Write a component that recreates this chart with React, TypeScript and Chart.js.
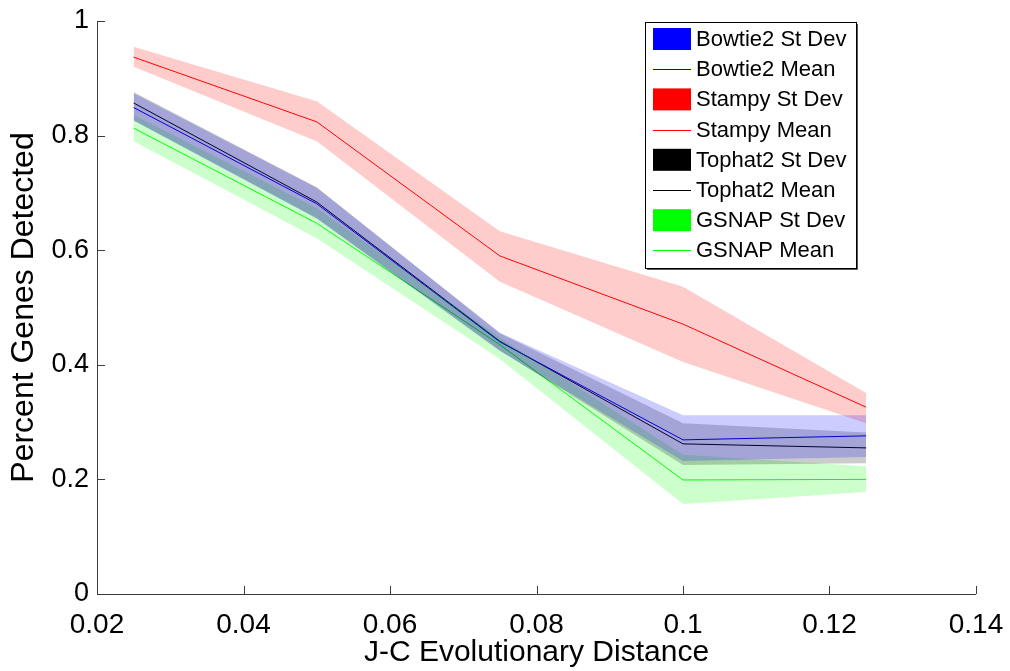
import React, { useEffect, useRef } from "react";
import { Chart, registerables } from "chart.js";

Chart.register(...registerables);

const xValues = [0.025, 0.05, 0.075, 0.1, 0.125];

const bowtieMean = [0.849, 0.681, 0.44, 0.269, 0.276];
const bowtieUpper = [0.874, 0.709, 0.456, 0.312, 0.312];
const bowtieLower = [0.826, 0.655, 0.424, 0.232, 0.239];

const stampyMean = [0.937, 0.824, 0.59, 0.471, 0.326];
const stampyUpper = [0.955, 0.86, 0.633, 0.536, 0.351];
const stampyLower = [0.92, 0.79, 0.545, 0.405, 0.298];

const tophatMean = [0.857, 0.684, 0.441, 0.262, 0.255];
const tophatUpper = [0.876, 0.71, 0.455, 0.298, 0.282];
const tophatLower = [0.827, 0.656, 0.425, 0.225, 0.228];

const gsnapMean = [0.813, 0.647, 0.435, 0.199, 0.2];
const gsnapUpper = [0.836, 0.673, 0.447, 0.243, 0.223];
const gsnapLower = [0.79, 0.621, 0.41, 0.157, 0.178];

const xTicks = [0.02, 0.04, 0.06, 0.08, 0.1, 0.12, 0.14];
const yTicks = [0, 0.2, 0.4, 0.6, 0.8, 1];

const legendLabels = [
  "Bowtie2 St Dev",
  "Bowtie2 Mean",
  "Stampy St Dev",
  "Stampy Mean",
  "Tophat2 St Dev",
  "Tophat2 Mean",
  "GSNAP St Dev",
  "GSNAP Mean",
];

const FONT = "'Liberation Sans', Arial, Helvetica, sans-serif";

const pts = (ys: number[]) => xValues.map((x, i) => ({ x, y: ys[i] }));

function bandSets(upper: number[], lower: number[], rgb: string) {
  return [
    {
      label: "upper",
      data: pts(upper),
      borderWidth: 0,
      pointRadius: 0,
      fill: "+1",
      backgroundColor: `rgba(${rgb},0.2)`,
      borderColor: "transparent",
      tension: 0,
    },
    {
      label: "lower",
      data: pts(lower),
      borderWidth: 0,
      pointRadius: 0,
      fill: false,
      borderColor: "transparent",
      tension: 0,
    },
  ];
}

function meanSet(ys: number[], color: string) {
  return {
    label: "mean",
    data: pts(ys),
    borderWidth: 1,
    pointRadius: 0,
    fill: false,
    borderColor: color,
    tension: 0,
  };
}

const axesPlugin = {
  id: "matlabAxes",
  afterDraw(chart: any) {
    const ctx = chart.ctx;
    const { left, right, top, bottom } = chart.chartArea;
    const xs = chart.scales.x;
    const ys = chart.scales.y;
    ctx.save();
    ctx.strokeStyle = "#3c3c3c";
    ctx.lineWidth = 1;
    ctx.beginPath();
    ctx.moveTo(left + 0.5, top);
    ctx.lineTo(left + 0.5, bottom + 0.5);
    ctx.lineTo(right, bottom + 0.5);
    ctx.stroke();
    ctx.beginPath();
    for (const t of yTicks) {
      const py = Math.round(ys.getPixelForValue(t)) + 0.5;
      ctx.moveTo(left, py);
      ctx.lineTo(left + 8, py);
    }
    for (const t of xTicks) {
      const px = Math.round(xs.getPixelForValue(t)) + 0.5;
      ctx.moveTo(px, bottom);
      ctx.lineTo(px, bottom - 8);
    }
    ctx.stroke();

    // legend
    const lx = 645;
    const ly = 22;
    const lw = 211;
    const lh = 246;
    ctx.fillStyle = "#ffffff";
    ctx.fillRect(lx, ly, lw, lh);
    ctx.strokeStyle = "#000000";
    ctx.lineWidth = 1;
    ctx.strokeRect(lx + 0.5, ly + 0.5, lw, lh);
    ctx.strokeStyle = "#555";
    ctx.beginPath();
    ctx.moveTo(lx + lw + 1.5, ly + 2);
    ctx.lineTo(lx + lw + 1.5, ly + lh + 1.5);
    ctx.lineTo(lx + 2, ly + lh + 1.5);
    ctx.stroke();
    const colors = ["#0000ff", "#ff0000", "#000000", "#00ff00"];
    ctx.font = `22px ${FONT}`;
    ctx.textBaseline = "middle";
    ctx.textAlign = "left";
    for (let i = 0; i < legendLabels.length; i++) {
      const cy = 39 + i * 30.2;
      const c = colors[Math.floor(i / 2)];
      if (i % 2 === 0) {
        ctx.fillStyle = c;
        ctx.fillRect(653, cy - 11, 38, 22);
      } else {
        ctx.strokeStyle = c;
        ctx.beginPath();
        ctx.moveTo(653, Math.round(cy) + 0.5);
        ctx.lineTo(691, Math.round(cy) + 0.5);
        ctx.stroke();
      }
      ctx.fillStyle = "#000";
      ctx.fillText(legendLabels[i], 696, cy + 1);
    }
    ctx.restore();
  },
};

export default function App() {
  const ref = useRef<HTMLCanvasElement | null>(null);
  useEffect(() => {
    document.body.style.margin = "0";
    const canvas = ref.current;
    if (!canvas) return;
    const datasets: any[] = [
      ...bandSets(bowtieUpper, bowtieLower, "0,0,255"),
      ...bandSets(stampyUpper, stampyLower, "255,0,0"),
      ...bandSets(tophatUpper, tophatLower, "0,0,0"),
      ...bandSets(gsnapUpper, gsnapLower, "0,255,0"),
      meanSet(bowtieMean, "#0000ff"),
      meanSet(stampyMean, "#ff0000"),
      meanSet(tophatMean, "#000000"),
      meanSet(gsnapMean, "#00ff00"),
    ];
    const chart = new Chart(canvas, {
      type: "line",
      data: { datasets },
      plugins: [axesPlugin],
      options: {
        animation: false,
        responsive: false,
        maintainAspectRatio: false,
        layout: { padding: { left: 0, right: 34, top: 21, bottom: 0 } },
        plugins: {
          legend: { display: false },
          tooltip: { enabled: false },
          filler: { propagate: false },
        },
        scales: {
          x: {
            type: "linear",
            min: 0.02,
            max: 0.14,
            afterFit: (s: any) => {
              s.height = 77;
            },
            afterBuildTicks: (s: any) => {
              s.ticks = xTicks.map((v) => ({ value: v }));
            },
            border: { display: false },
            grid: { display: false },
            ticks: {
              color: "#000",
              font: { family: FONT, size: 28 },
              padding: 6,
              maxRotation: 0,
              callback: (v: any) => String(Number(v)),
            },
            title: {
              display: true,
              text: "J-C Evolutionary Distance",
              color: "#000",
              font: { family: FONT, size: 30 },
              padding: { top: 0, bottom: 0 },
            },
          },
          y: {
            type: "linear",
            min: 0,
            max: 1,
            afterFit: (s: any) => {
              s.width = 97;
            },
            afterBuildTicks: (s: any) => {
              s.ticks = yTicks.map((v) => ({ value: v }));
            },
            border: { display: false },
            grid: { display: false },
            ticks: {
              color: "#000",
              font: { family: FONT, size: 27 },
              padding: 0,
              callback: (v: any) => String(Number(v)),
            },
            title: {
              display: true,
              text: "Percent Genes Detected",
              color: "#000",
              font: { family: FONT, size: 32 },
              padding: { top: 5, bottom: 0 },
            },
          },
        },
      },
    });
    return () => chart.destroy();
  }, []);
  return (
    <div style={{ width: 1010, height: 671, background: "#fff" }}>
      <canvas ref={ref} width={1010} height={671} style={{ display: "block" }} />
    </div>
  );
}
